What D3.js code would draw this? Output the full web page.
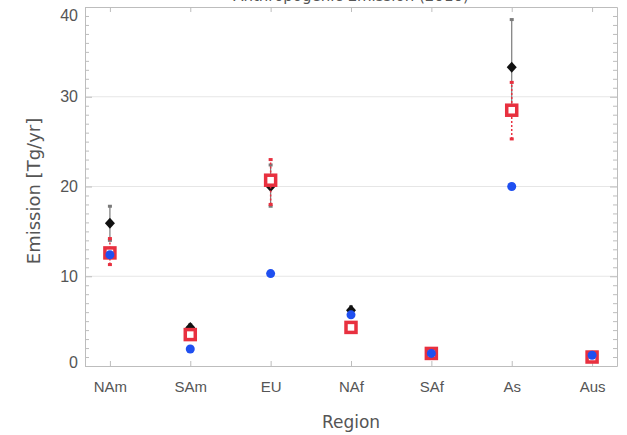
<!DOCTYPE html>
<html>
<head>
<meta charset="utf-8">
<script src="https://cdn.jsdelivr.net/npm/d3@7"></script>
<style>
  html, body { margin: 0; padding: 0; background: #fff; }
  svg { display: block; font-family: "DejaVu Sans", "Open Sans", sans-serif; }
</style>
</head>
<body>
<svg id="chart" width="627" height="435"></svg>
<script>
// ---- data ----
const regions = ["NAm", "SAm", "EU", "NAf", "SAf", "As", "Aus"];
const blackVal = [15.9, 4.3, 20.0, 6.2, 1.3, 33.3, 1.1];
const blackLo  = [14.0, 4.0, 17.8, 5.8, 1.1, 28.5, 0.9];
const blackHi  = [17.8, 4.6, 22.4, 6.6, 1.5, 38.6, 1.3];
const redVal   = [12.6, 3.5, 20.7, 4.3, 1.4, 28.5, 1.0];
const redLo    = [11.3, 3.2, 18.0, 4.0, 1.2, 25.3, 0.9];
const redHi    = [14.2, 3.9, 23.0, 4.6, 1.6, 31.6, 1.2];
const blueVal  = [12.4, 1.9, 10.3, 5.7, 1.4, 20.0, 1.2];
const yMajor = [0, 10, 20, 30, 40];
const gridVals = [10, 20, 30];
const titleText = "Anthropogenic Emission (2010)";
const xTitle = "Region";
const yTitle = "Emission [Tg/yr]";

// ---- layout ----
const L = 85, R = 617, T = 7, B = 366;
const svg = d3.select("#chart");
const x = d3.scalePoint().domain(regions).range([L, R]).padding(0.31);
const y = d3.scaleLinear().domain([0, 40]).range([B, T]);
const yMinor = d3.range(0, 41, 1).filter(v => v % 10 !== 0);
const axisColor = "#bdbdbd";
const textColor = "#555555";

// gridlines
svg.append("g").selectAll("line").data(gridVals).join("line")
  .attr("x1", L).attr("x2", R)
  .attr("y1", d => y(d)).attr("y2", d => y(d))
  .attr("stroke", "#e6e6e6").attr("stroke-width", 1);

function styleAxis(g) {
  g.selectAll("path").attr("stroke", axisColor);
  g.selectAll("line").attr("stroke", axisColor);
  g.selectAll("text").attr("fill", textColor);
}

// left axis
svg.append("g").attr("transform", `translate(${L},0)`)
  .call(d3.axisLeft(y).tickValues(yMajor).tickSizeInner(-7).tickSizeOuter(0).tickPadding(7))
  .call(g => g.selectAll("text").attr("font-size", 16)
    .attr("dy", d => d === 40 ? "0.85em" : (d === 0 ? "0.1em" : "0.32em")))
  .call(styleAxis);
svg.append("g").attr("transform", `translate(${L},0)`)
  .call(d3.axisLeft(y).tickValues(yMinor).tickSizeInner(-4).tickSizeOuter(0).tickFormat(""))
  .call(g => g.select("path").remove())
  .call(styleAxis);
// right axis
svg.append("g").attr("transform", `translate(${R},0)`)
  .call(d3.axisRight(y).tickValues(yMajor).tickSizeInner(-7).tickSizeOuter(0).tickFormat(""))
  .call(styleAxis);
svg.append("g").attr("transform", `translate(${R},0)`)
  .call(d3.axisRight(y).tickValues(yMinor).tickSizeInner(-4).tickSizeOuter(0).tickFormat(""))
  .call(g => g.select("path").remove())
  .call(styleAxis);
// bottom axis
svg.append("g").attr("transform", `translate(0,${B})`)
  .call(d3.axisBottom(x).tickSizeInner(-5).tickSizeOuter(0).tickPadding(15))
  .call(g => g.selectAll("text").attr("font-size", 15))
  .call(styleAxis);
// top axis
svg.append("g").attr("transform", `translate(0,${T})`)
  .call(d3.axisTop(x).tickSizeInner(-5).tickSizeOuter(0).tickFormat(""))
  .call(styleAxis);

// title (clipped at the top edge as in the reference)
svg.append("text").attr("x", (L + R) / 2).attr("y", 1)
  .attr("text-anchor", "middle").attr("font-size", 15).attr("fill", textColor)
  .text(titleText);
// axis titles
svg.append("text").attr("x", (L + R) / 2).attr("y", 428)
  .attr("text-anchor", "middle").attr("font-size", 17).attr("fill", textColor)
  .text(xTitle);
svg.append("text").attr("transform", `translate(40,191) rotate(-90)`)
  .attr("text-anchor", "middle").attr("font-size", 18).attr("fill", textColor)
  .text(yTitle);

// ---- black series ----
const gB = svg.append("g");
regions.forEach((r, i) => {
  const cx = x(r);
  gB.append("line").attr("x1", cx).attr("x2", cx)
    .attr("y1", y(blackLo[i])).attr("y2", y(blackHi[i]))
    .attr("stroke", "#7a7a7a").attr("stroke-width", 1.2);
  [blackLo[i], blackHi[i]].forEach(v => {
    gB.append("rect").attr("x", cx - 2).attr("y", y(v) - 1.5)
      .attr("width", 4).attr("height", 3).attr("fill", "#7a7a7a");
  });
});
gB.selectAll("path.dia").data(regions).join("path")
  .attr("class", "dia")
  .attr("transform", (r, i) => `translate(${x(r)},${y(blackVal[i])})`)
  .attr("d", "M0,-5.5L5,0L0,5.5L-5,0Z")
  .attr("fill", "#111");

// ---- red series ----
const red = "#e8303f";
const gR = svg.append("g");
regions.forEach((r, i) => {
  const cx = x(r);
  gR.append("line").attr("x1", cx).attr("x2", cx)
    .attr("y1", y(redLo[i])).attr("y2", y(redHi[i]))
    .attr("stroke", red).attr("stroke-width", 1.5)
    .attr("stroke-dasharray", "2,2");
  [redLo[i], redHi[i]].forEach(v => {
    gR.append("rect").attr("x", cx - 2).attr("y", y(v) - 1.5)
      .attr("width", 4).attr("height", 3).attr("fill", red);
  });
});
gR.selectAll("rect.sq").data(regions).join("rect")
  .attr("class", "sq")
  .attr("x", r => x(r) - 5).attr("y", (r, i) => y(redVal[i]) - 5)
  .attr("width", 10).attr("height", 10)
  .attr("fill", "#fff").attr("stroke", red).attr("stroke-width", 3.5);

// ---- blue series ----
svg.append("g").selectAll("circle").data(regions).join("circle")
  .attr("cx", r => x(r)).attr("cy", (r, i) => y(blueVal[i]))
  .attr("r", 4.5).attr("fill", "#1f4ff0");
</script>
</body>
</html>
